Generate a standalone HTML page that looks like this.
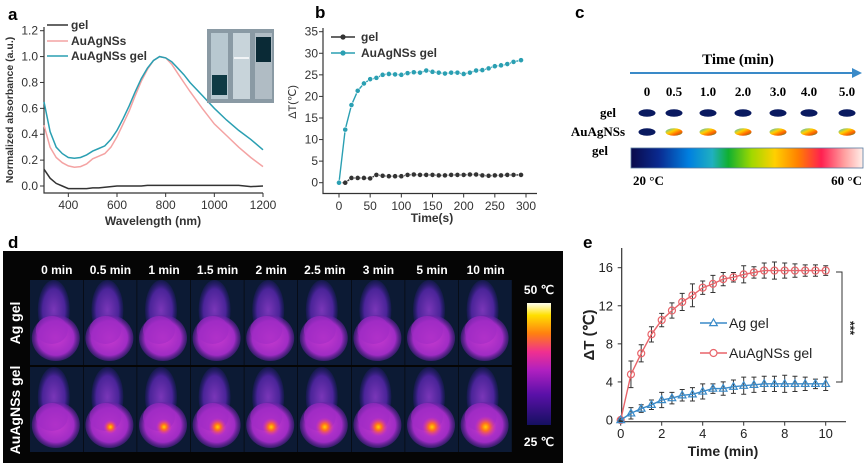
<!DOCTYPE html>
<html><head><meta charset="utf-8"><style>
body{margin:0;background:#fff}
svg{display:block;font-family:"Liberation Sans",Arial,sans-serif}
.b{font-weight:bold}
.serif{font-family:"Liberation Serif",serif;font-weight:bold}
</style></head><body>
<svg id="fig" width="865" height="468" viewBox="0 0 865 468">
<defs>
<linearGradient id="cbarC" x1="0" x2="1" y1="0" y2="0">
<stop offset="0" stop-color="#0a0a4a"/><stop offset="0.12" stop-color="#0a2a90"/><stop offset="0.25" stop-color="#0080e0"/><stop offset="0.35" stop-color="#20b0c0"/><stop offset="0.42" stop-color="#10b030"/><stop offset="0.52" stop-color="#a0d800"/><stop offset="0.62" stop-color="#ffd000"/><stop offset="0.72" stop-color="#ff8000"/><stop offset="0.82" stop-color="#ff2050"/><stop offset="0.92" stop-color="#ffa0a0"/><stop offset="1" stop-color="#fff0ea"/>
</linearGradient>
<linearGradient id="cbarD" x1="0" x2="0" y1="1" y2="0">
<stop offset="0" stop-color="#151060"/><stop offset="0.25" stop-color="#5a10a8"/><stop offset="0.45" stop-color="#b020c0"/><stop offset="0.6" stop-color="#f03090"/><stop offset="0.75" stop-color="#ff8010"/><stop offset="0.9" stop-color="#ffe000"/><stop offset="1" stop-color="#fffff0"/>
</linearGradient>
<radialGradient id="blob"><stop offset="0" stop-color="#c83ad0"/><stop offset="0.75" stop-color="#a02cc4"/><stop offset="1" stop-color="#6020a0" stop-opacity="0.5"/></radialGradient>
<radialGradient id="body"><stop offset="0" stop-color="#7a36b8"/><stop offset="0.7" stop-color="#4a2498"/><stop offset="1" stop-color="#2a1a80" stop-opacity="0.3"/></radialGradient>
<radialGradient id="hot"><stop offset="0" stop-color="#ffd000"/><stop offset="0.35" stop-color="#ff7020"/><stop offset="1" stop-color="#e030b0" stop-opacity="0"/></radialGradient>
<linearGradient id="ovl" x1="0" x2="1" y1="0" y2="1"><stop offset="0" stop-color="#30c0e0"/><stop offset="0.4" stop-color="#ffd000"/><stop offset="0.7" stop-color="#ff6000"/><stop offset="1" stop-color="#20a040"/></linearGradient>
</defs>
<g id="pa"></g>
<g id="pb"></g>
<g id="pc"></g>
<g id="pd"></g>
<g id="pe"></g>
</svg>
<script>
// Panel a data
const wl=[300,325,350,375,400,425,450,475,500,525,550,575,600,625,650,675,700,725,750,775,800,825,850,875,900,950,1000,1050,1100,1150,1200];
const absGel=[0.13,0.06,0.02,0.0,-0.02,-0.02,-0.02,-0.02,-0.015,-0.015,-0.01,-0.005,0,0,0,0,0,0.005,0.005,0.005,0.005,0.005,0.005,0.005,0.005,0.005,0.005,0.005,0.005,-0.005,0];
const absNS=[0.47,0.30,0.22,0.18,0.155,0.145,0.15,0.17,0.21,0.23,0.25,0.30,0.38,0.48,0.58,0.70,0.81,0.90,0.97,1.0,0.99,0.94,0.87,0.80,0.73,0.60,0.48,0.39,0.30,0.22,0.15];
const absNSGel=[0.65,0.42,0.30,0.25,0.22,0.215,0.22,0.24,0.27,0.29,0.31,0.36,0.43,0.52,0.62,0.73,0.83,0.91,0.97,1.0,0.99,0.96,0.91,0.86,0.80,0.70,0.60,0.51,0.43,0.36,0.28];
const aXTicks=[400,600,800,1000,1200];
const aYTicks=[0,0.2,0.4,0.6,0.8,1.0,1.2];
// Panel b data
const tb=[0,10,20,30,40,50,60,70,80,90,100,110,120,130,140,150,160,170,180,190,200,210,220,230,240,250,260,270,280,292];
const bGel=[0,0,1.1,1.1,1.1,1.0,1.8,1.6,1.5,1.5,1.5,1.8,1.9,1.8,1.8,1.8,1.7,1.7,1.8,1.8,1.8,1.9,1.9,1.7,1.6,1.7,1.7,1.8,1.8,1.8];
const bNSGel=[0,12.3,18,21.3,23,24,24.3,25,25.2,25.1,25,25.4,25.6,25.5,26,25.7,25.5,25.3,25.5,25.5,25.2,25.5,26,26.1,26.5,27,27.2,27.5,28,28.4];
const bXTicks=[0,50,100,150,200,250,300];
const bYTicks=[0,5,10,15,20,25,30,35];
// Panel c
const cTimes=["0","0.5","1.0","2.0","3.0","4.0","5.0"];
// Panel d
const dTimes=["0 min","0.5 min","1 min","1.5 min","2 min","2.5 min","3 min","5 min","10 min"];
const dHot=[0,7,8,9,9,9.5,9.5,10,11];
// Panel e data
const te=[0,0.5,1,1.5,2,2.5,3,3.5,4,4.5,5,5.5,6,6.5,7,7.5,8,8.5,9,9.5,10];
const eNS=[0,4.8,7,9,10.5,11.5,12.4,13.1,13.9,14.3,14.8,15,15.3,15.5,15.7,15.7,15.7,15.7,15.7,15.7,15.7];
const eNSErr=[0.2,1.4,0.9,0.8,0.7,0.8,0.9,1.2,0.7,0.9,0.7,0.5,0.9,0.6,0.8,0.9,0.8,0.7,0.6,0.6,0.5];
const eAg=[0,0.7,1.2,1.6,2.1,2.3,2.6,2.7,3.0,3.3,3.3,3.5,3.6,3.7,3.8,3.8,3.8,3.8,3.8,3.8,3.8];
const eAgErr=[0.1,0.6,0.4,0.5,0.8,0.6,0.6,0.7,0.8,0.5,0.7,0.7,0.9,0.8,0.8,0.8,0.9,0.8,0.7,0.5,0.7];
const eXTicks=[0,2,4,6,8,10];
const eYTicks=[0,4,8,12,16];

const NS="http://www.w3.org/2000/svg";
function mk(p,tag,at,txt){const e=document.createElementNS(NS,tag);for(const k in at)e.setAttribute(k,at[k]);if(txt!=null)e.textContent=txt;p.appendChild(e);return e;}
function path(xs,ys,fx,fy){return xs.map((x,i)=>(i?'L':'M')+fx(x).toFixed(1)+','+fy(ys[i]).toFixed(1)).join('');}

// ---------- Panel a
(function(){
const g=document.getElementById('pa');
const fx=v=>44+(v-300)*(219/900), fy=v=>186-v*(155.3/1.2);
let t=mk(g,'text',{x:8,y:20,'font-size':17,class:'b'},'a');


let ax=mk(g,'path',{d:'M44,27V193H263',fill:'none',stroke:'#333','stroke-width':1.2});


aYTicks.forEach(v=>{mk(g,'line',{x1:40,x2:44,y1:fy(v),y2:fy(v),stroke:'#333'});
 const l=mk(g,'text',{x:38,y:fy(v)+4,'font-size':12,'text-anchor':'end',fill:'#333'},v.toFixed(1));
 
 });
aXTicks.forEach(v=>{mk(g,'line',{x1:fx(v),x2:fx(v),y1:193,y2:197,stroke:'#333'});
 const l=mk(g,'text',{x:fx(v),y:209,'font-size':12,'text-anchor':'middle',fill:'#333'},v);
 
 });
t=mk(g,'text',{x:153,y:225,'font-size':12,'text-anchor':'middle',class:'b',fill:'#333'},'Wavelength (nm)');


t=mk(g,'text',{transform:'translate(13,110) rotate(-90)','font-size':10.5,'text-anchor':'middle',class:'b',fill:'#333'},'Normalized absorbance (a.u.)');


[[absNS,'#f4a3a3'],[absNSGel,'#2a9fb2'],[absGel,'#333']].forEach(([d,c],i)=>{
 const p=mk(g,'path',{d:path(wl,d,fx,fy),fill:'none',stroke:c,'stroke-width':1.5});
 
 });
[['gel','#333',25],['AuAgNSs','#f4a3a3',41],['AuAgNSs gel','#2a9fb2',56]].forEach(([n,c,y])=>{
 mk(g,'line',{x1:47,x2:68,y1:y,y2:y,stroke:c,'stroke-width':1.6});
 const l=mk(g,'text',{x:71,y:y+4,'font-size':12,class:'b',fill:'#333'},n);
 
 });
const ph=mk(g,'g',{});


mk(ph,'rect',{x:207,y:29,width:67,height:74,fill:'#8a9aa4'});
mk(ph,'rect',{x:211,y:33,width:17,height:66,fill:'#b8c8d0'});
mk(ph,'rect',{x:212,y:75,width:15,height:20,fill:'#0f3a44'});
mk(ph,'rect',{x:233,y:33,width:17,height:66,fill:'#c8d4da'});
mk(ph,'line',{x1:234,x2:249,y1:58,y2:58,stroke:'#fff','stroke-width':1.5});
mk(ph,'rect',{x:255,y:33,width:17,height:66,fill:'#b0bcc4'});
mk(ph,'rect',{x:256,y:37,width:15,height:25,fill:'#0a2a36'});
})();

// ---------- Panel b
(function(){
const g=document.getElementById('pb');
const fx=v=>339+v*(187/300), fy=v=>182.7-v*(151/35);
let t=mk(g,'text',{x:315,y:18,'font-size':17,class:'b'},'b');


let ax=mk(g,'path',{d:'M323,28V193.5H537',fill:'none',stroke:'#333','stroke-width':1.2});


bYTicks.forEach(v=>{mk(g,'line',{x1:319,x2:323,y1:fy(v),y2:fy(v),stroke:'#333'});
 const l=mk(g,'text',{x:318,y:fy(v)+4,'font-size':12,'text-anchor':'end',fill:'#333'},v);
 
 });
bXTicks.forEach(v=>{mk(g,'line',{x1:fx(v),x2:fx(v),y1:193.5,y2:197.5,stroke:'#333'});
 const l=mk(g,'text',{x:fx(v),y:210,'font-size':12,'text-anchor':'middle',fill:'#333'},v);
 
 });
t=mk(g,'text',{x:432,y:222,'font-size':12,'text-anchor':'middle',class:'b',fill:'#333'},'Time(s)');


t=mk(g,'text',{transform:'translate(296,102) rotate(-90)','font-size':11,'text-anchor':'middle',fill:'#333'},'ΔT(℃)');


[[bGel,'#333'],[bNSGel,'#2a9fb2']].forEach(([d,c])=>{
 const p=mk(g,'path',{d:path(tb,d,fx,fy),fill:'none',stroke:c,'stroke-width':1.4});
 
 
 d.forEach((v,i)=>{const m=mk(g,'circle',{cx:fx(tb[i]),cy:fy(v),r:2.6,fill:c,stroke:'#fff','stroke-width':0.6});
  
  });});
[['gel','#333',37],['AuAgNSs gel','#2a9fb2',53]].forEach(([n,c,y])=>{
 mk(g,'line',{x1:331,x2:355,y1:y,y2:y,stroke:c,'stroke-width':1.4});
 mk(g,'circle',{cx:343,cy:y,r:2.6,fill:c});
 const l=mk(g,'text',{x:361,y:y+4,'font-size':12,class:'b',fill:'#333'},n);
 
 });
})();

// ---------- Panel c
(function(){
const g=document.getElementById('pc');
let t=mk(g,'text',{x:575,y:18,'font-size':17,class:'b'},'c');


t=mk(g,'text',{x:738,y:64,'font-size':15,'text-anchor':'middle',class:'serif'},'Time (min)');


const ar=mk(g,'g',{});


mk(ar,'line',{x1:630,x2:855,y1:73,y2:73,stroke:'#3a8ac8','stroke-width':2});
mk(ar,'path',{d:'M852,68L862,73L852,78Z',fill:'#3a8ac8'});
const xs=[647,674,708,743,778,809,847];
cTimes.forEach((s,i)=>{
 const l=mk(g,'text',{x:xs[i],y:96,'font-size':13,'text-anchor':'middle',class:'serif'},s);
 
 
 const e1=mk(g,'ellipse',{cx:xs[i],cy:113,rx:8.5,ry:3.8,fill:'#0a1a60'});
 
 
 const e2=mk(g,'ellipse',{cx:xs[i],cy:132,rx:8.5,ry:3.8,fill:i==0?'#0a1a60':'url(#ovl)'});
 
 });
[['gel',608,117],['AuAgNSs',598,136],['gel',600,155]].forEach(([n,x,y])=>{
 const l=mk(g,'text',{x:x,y:y,'font-size':13,'text-anchor':'middle',class:'serif'},n);
 
 });
const cb=mk(g,'rect',{x:631,y:148,width:232,height:20,fill:'url(#cbarC)',stroke:'#5a7aa0','stroke-width':0.8});


t=mk(g,'text',{x:633,y:185,'font-size':13,class:'serif'},'20 °C');


t=mk(g,'text',{x:862,y:185,'font-size':13,'text-anchor':'end',class:'serif'},'60 °C');


})();

// ---------- Panel d
(function(){
const g=document.getElementById('pd');
let t=mk(g,'text',{x:8,y:248,'font-size':17,class:'b'},'d');


const bg=mk(g,'rect',{x:3,y:251,width:560,height:212,fill:'#050505'});


const W=53.6;
dTimes.forEach((s,i)=>{
 const cx=30+i*W+W/2;
 const l=mk(g,'text',{x:cx,y:274,'font-size':12,'text-anchor':'middle',class:'b',fill:'#fff'},s);
 
 
 [280,367].forEach((y0,r)=>{
  const c=mk(g,'g',{});
  
  
  mk(c,'rect',{x:30+i*W,y:y0,width:W-0.6,height:85,fill:'#0c1a34'});
  mk(c,'ellipse',{cx:cx-3,cy:y0+30,rx:16,ry:30,fill:'url(#body)'});
  mk(c,'ellipse',{cx:cx-1,cy:y0+58,rx:24,ry:23,fill:'url(#blob)'});
  mk(c,'ellipse',{cx:cx-5,cy:y0+50,rx:16,ry:14,fill:'#a02cc4',opacity:0.6});
  if(r==1&&dHot[i]>0) mk(c,'circle',{cx:cx,cy:y0+60,r:dHot[i],fill:'url(#hot)'});
 });});
[['Ag gel',323],['AuAgNSs gel',410]].forEach(([n,y])=>{
 const l=mk(g,'text',{transform:`translate(20,${y}) rotate(-90)`,'font-size':14,'text-anchor':'middle',class:'b',fill:'#fff'},n);
 
 });
const cb=mk(g,'rect',{x:527,y:303,width:24,height:122,fill:'url(#cbarD)'});


t=mk(g,'text',{x:539,y:294,'font-size':12,'text-anchor':'middle',class:'b',fill:'#fff'},'50 ℃');


t=mk(g,'text',{x:539,y:446,'font-size':12,'text-anchor':'middle',class:'b',fill:'#fff'},'25 ℃');


})();

// ---------- Panel e
(function(){
const g=document.getElementById('pe');
const fx=v=>620.7+v*20.5, fy=v=>420-v*(152.3/16);
let t=mk(g,'text',{x:583,y:248,'font-size':17,class:'b'},'e');


let ax=mk(g,'path',{d:'M621.7,248V421.7H846',fill:'none',stroke:'#333','stroke-width':1.2});


eYTicks.forEach(v=>{mk(g,'line',{x1:617.7,x2:621.7,y1:fy(v),y2:fy(v),stroke:'#333'});
 const l=mk(g,'text',{x:613,y:fy(v)+4.5,'font-size':13,'text-anchor':'end',fill:'#222'},v);
 
 });
eXTicks.forEach(v=>{mk(g,'line',{x1:fx(v),x2:fx(v),y1:421.7,y2:425.7,stroke:'#333'});
 const l=mk(g,'text',{x:fx(v),y:438,'font-size':13,'text-anchor':'middle',fill:'#222'},v);
 
 });
t=mk(g,'text',{x:723,y:456,'font-size':14,'text-anchor':'middle',class:'b',fill:'#222'},'Time (min)');


t=mk(g,'text',{transform:'translate(594,335) rotate(-90)','font-size':15,'text-anchor':'middle',class:'b',fill:'#222'},'ΔT (℃)');


[[eNS,eNSErr,'#e8646a','c'],[eAg,eAgErr,'#3a8ac8','t']].forEach(([d,err,c,sh])=>{
 d.forEach((v,i)=>{const x=fx(te[i]);
  const eb=mk(g,'path',{d:`M${x},${fy(v-err[i])}V${fy(v+err[i])}M${x-2.5},${fy(v-err[i])}h5M${x-2.5},${fy(v+err[i])}h5`,stroke:'#333','stroke-width':1,fill:'none'});
  
  });
 const p=mk(g,'path',{d:path(te,d,fx,fy),fill:'none',stroke:c,'stroke-width':1.4});
 
 
 d.forEach((v,i)=>{const x=fx(te[i]),y=fy(v);
  const m=sh=='c'?mk(g,'circle',{cx:x,cy:y,r:3.5,fill:'none',stroke:c,'stroke-width':1.2}):mk(g,'path',{d:`M${x},${y-4}L${x+3.8},${y+2.6}L${x-3.8},${y+2.6}Z`,fill:'none',stroke:c,'stroke-width':1.2});
  
  });});
[['Ag gel','#3a8ac8',323,'t'],['AuAgNSs gel','#e8646a',353,'c']].forEach(([n,c,y,sh])=>{
 mk(g,'line',{x1:700,x2:727,y1:y,y2:y,stroke:c,'stroke-width':1.4});
 if(sh=='c')mk(g,'circle',{cx:713.5,cy:y,r:3.5,fill:'#fff',stroke:c,'stroke-width':1.2});
 else mk(g,'path',{d:`M713.5,${y-4}L717.3,${y+2.6}L709.7,${y+2.6}Z`,fill:'#fff',stroke:c,'stroke-width':1.2});
 const l=mk(g,'text',{x:729,y:y+5,'font-size':14,fill:'#222'},n);
 
 });
const br=mk(g,'path',{d:'M836,272H842V382H836',fill:'none',stroke:'#333','stroke-width':1});


t=mk(g,'text',{transform:'translate(846,328) rotate(90)','font-size':12,'text-anchor':'middle',class:'b',fill:'#222'},'***');


})();
</script>
</body></html>
